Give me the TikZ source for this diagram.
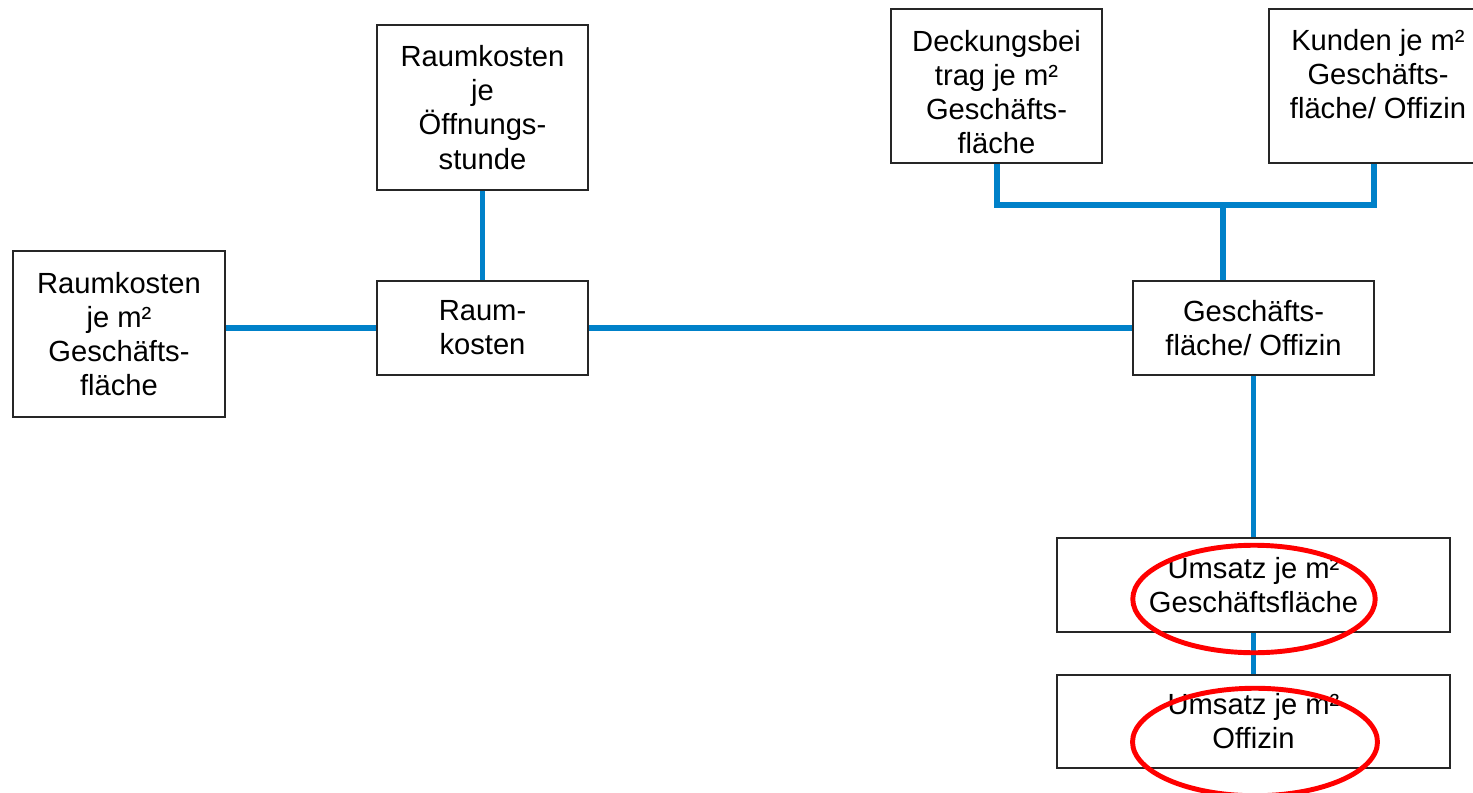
\documentclass[tikz,border=0pt]{standalone}
\usepackage{fontspec}
\setmainfont{Liberation Sans}
\usetikzlibrary{shapes.geometric}
\definecolor{linkblue}{RGB}{0,129,201}
\tikzset{
  txt/.style={inner sep=0pt, align=center, font=\fontsize{16.6}{19.4}\selectfont},
  box/.style={txt, draw=black!85, line width=0.8pt, fill=white},
  link/.style={draw=linkblue, line width=2.9pt},
  mark ring/.style={draw=red, line width=2.8pt}
}
\begin{document}
\begin{tikzpicture}[x=0.02cm, y=-0.02cm]
\useasboundingbox (0,0) rectangle (1473,793);
% boxes
\node[box, minimum width=4.22cm, minimum height=3.3cm] (oeff) at (482.5,107.5) {Raumkosten\\je\\Öffnungs-\\stunde};
\node[box, minimum width=4.22cm, minimum height=3.08cm] (db) at (996.5,86) {};
\node[txt, yshift=-0.12cm] (dbtext) at (db.center) {Deckungsbei\\trag je m²\\Geschäfts-\\fläche};
\node[box, minimum width=4.3cm, minimum height=3.08cm] (kunden) at (1376.5,86) {};
\node[txt, yshift=-0.2cm] (kundentext) at (1378,86) {Kunden je m²\\Geschäfts-\\fläche/ Offizin\\\strut};
\node[box, minimum width=4.24cm, minimum height=3.32cm] (rkqm) at (119,334) {Raumkosten\\je m²\\Geschäfts-\\fläche};
\node[box, minimum width=4.22cm, minimum height=1.88cm] (rk) at (482.5,328) {Raum-\\kosten};
\node[box, minimum width=4.82cm, minimum height=1.88cm] (gf) at (1253.5,328) {Geschäfts-\\fläche/ Offizin};
\node[box, minimum width=7.86cm, minimum height=1.88cm] (ugf) at (1253.5,585) {Umsatz je m²\\Geschäftsfläche};
\node[box, minimum width=7.86cm, minimum height=1.86cm] (uoff) at (1253.5,721.5) {Umsatz je m²\\Offizin};
% connectors
\coordinate (jl) at (997,205);
\coordinate (jr) at (1374,205);
\coordinate (jm) at (1223,205);
\draw[link] (oeff.south) -- (rk.north);
\draw[link] (rkqm.east |- rk.west) -- (rk.west);
\draw[link] (rk.east) -- (gf.west);
\draw[link] (db.south -| jl) -- (jl) -- (jr) -- (kunden.south -| jr);
\draw[link] (jm) -- (jm |- gf.north);
\draw[link] (gf.south -| ugf.north) -- (ugf.north);
\draw[link] (ugf.south) -- (uoff.north);
% highlight rings
\node[mark ring, ellipse, minimum width=4.85cm, minimum height=2.15cm, inner sep=0pt] (ring1) at (1254,599) {};
\node[mark ring, ellipse, minimum width=4.9cm, minimum height=2.15cm, inner sep=0pt] (ring2) at (1255,742) {};
\end{tikzpicture}
\end{document}
